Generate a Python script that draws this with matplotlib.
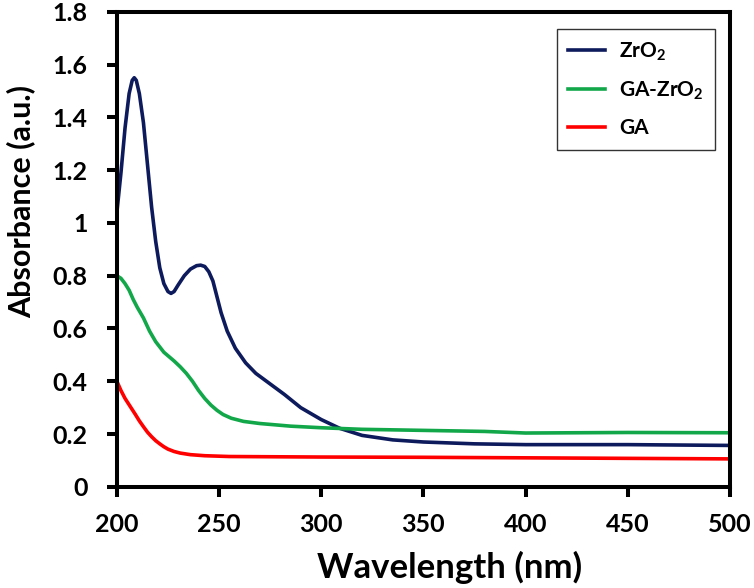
import numpy as np
import matplotlib
matplotlib.use('Agg')
import matplotlib.pyplot as plt

plt.rcParams['font.family'] = ['Lato', 'DejaVu Sans']
plt.rcParams['font.weight'] = 'bold'
plt.rcParams['mathtext.fontset'] = 'custom'
plt.rcParams['mathtext.rm'] = 'Lato:bold'
plt.rcParams['mathtext.it'] = 'Lato:bold'
plt.rcParams['mathtext.bf'] = 'Lato:bold'

# values
wl_zro2 = [200, 202, 204, 206, 207.5, 208.5, 209.5, 211, 213, 215, 217, 219, 221,
           223, 225, 226.5, 228, 230, 233, 236, 239, 241, 243, 245, 247, 249, 251,
           254, 258, 263, 268, 275, 282, 290, 300, 309, 320, 335, 350, 375, 400,
           450, 500]
abs_zro2 = [1.04, 1.19, 1.36, 1.49, 1.54, 1.55, 1.54, 1.49, 1.38, 1.22, 1.06, 0.93,
            0.83, 0.77, 0.74, 0.733, 0.74, 0.765, 0.80, 0.825, 0.838, 0.84, 0.835,
            0.815, 0.78, 0.72, 0.66, 0.59, 0.525, 0.47, 0.43, 0.39, 0.35, 0.30,
            0.255, 0.222, 0.195, 0.178, 0.170, 0.163, 0.160, 0.160, 0.157]

wl_gazro2 = [200, 202, 204, 206, 208, 210, 213, 216, 219, 223, 228, 231, 234, 237,
             240, 243, 246, 249, 252, 256, 262, 270, 285, 300, 320, 350, 380, 400,
             450, 500]
abs_gazro2 = [0.80, 0.79, 0.77, 0.745, 0.71, 0.68, 0.64, 0.59, 0.55, 0.51, 0.477,
              0.455, 0.43, 0.40, 0.365, 0.335, 0.31, 0.29, 0.274, 0.26, 0.248, 0.240,
              0.230, 0.224, 0.218, 0.214, 0.210, 0.204, 0.206, 0.205]

wl_ga = [200, 202, 204, 206.5, 209, 211, 213, 215, 217, 219, 221, 223, 225, 228,
         231, 236, 243, 255, 300, 350, 400, 450, 500]
abs_ga = [0.40, 0.365, 0.335, 0.305, 0.275, 0.25, 0.228, 0.207, 0.19, 0.175, 0.163,
          0.152, 0.143, 0.134, 0.128, 0.122, 0.118, 0.115, 0.113, 0.112, 0.110,
          0.108, 0.106]

fig = plt.figure(figsize=(7.54, 5.88), dpi=100)
ax = fig.add_axes([0.155, 0.172, 0.813, 0.808])

ax.plot(wl_zro2, abs_zro2, color='#0d1a5c', lw=2.6, label='ZrO$_2$')
ax.plot(wl_gazro2, abs_gazro2, color='#12a84a', lw=2.6, label='GA-ZrO$_2$')
ax.plot(wl_ga, abs_ga, color='#ff0000', lw=2.6, label='GA')

ax.set_xlim(200, 500)
ax.set_ylim(0, 1.8)
ax.set_xticks(np.arange(200, 501, 50))
ax.set_yticks(np.arange(0, 1.81, 0.2))
ax.set_yticklabels(['0', '0.2', '0.4', '0.6', '0.8', '1', '1.2', '1.4', '1.6', '1.8'])

for s in ax.spines.values():
    s.set_linewidth(2.9)
ax.tick_params(width=2.9, length=7, labelsize=18, direction='out')
ax.tick_params(axis='x', pad=12)
ax.tick_params(axis='y', pad=14)

ax.set_xlabel('Wavelength (nm)', fontsize=25, fontweight='bold')
ax.set_ylabel('Absorbance (a.u.)', fontsize=22, fontweight='bold')
ax.xaxis.set_label_coords(0.543, -0.135)
ax.yaxis.set_label_coords(-0.133, 0.6)

leg = ax.legend(loc='upper right', bbox_to_anchor=(0.976, 0.964), borderaxespad=0,
                fontsize=15, frameon=True, fancybox=False, edgecolor='black',
                handlelength=1.8, labelspacing=0.8, borderpad=0.55,
                handletextpad=0.65)
leg.get_frame().set_linewidth(1.0)

fig.savefig('out.png', dpi=100)
